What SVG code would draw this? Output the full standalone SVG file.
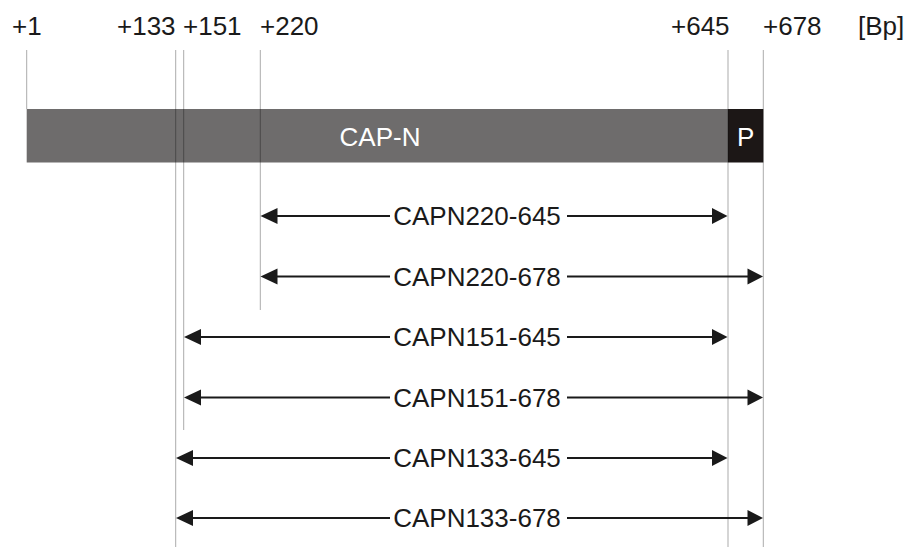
<svg xmlns="http://www.w3.org/2000/svg" width="907" height="547" viewBox="0 0 907 547">
<style>
text{font-family:"Liberation Sans",Arial,sans-serif;font-size:26px;fill:#1a1a1a}
.w{fill:#ffffff}
.m{text-anchor:middle}
.g{stroke:#000;stroke-opacity:0.33;stroke-width:1;fill:none}
.a{stroke:#1a1a1a;stroke-width:2;fill:none}
.h{fill:#1a1a1a}
</style>
<g id="bar">
<rect x="26.7" y="109" width="701.3" height="53.5" fill="#6e6c6c"/>
<rect x="728" y="109" width="35.3" height="53.5" fill="#1c1716"/>
<text class="w m" x="380" y="146">CAP-N</text>
<text class="w m" x="745.6" y="146">P</text>
</g>
<g id="scale">
<text x="12" y="35">+1</text>
<text x="117" y="35">+133</text>
<text x="183" y="35">+151</text>
<text x="260" y="35">+220</text>
<text x="671" y="35">+645</text>
<text x="763" y="35">+678</text>
<text x="858" y="35">[Bp]</text>
<line class="g" x1="26.7" y1="50" x2="26.7" y2="109"/>
<line class="g" x1="175.7" y1="50" x2="175.7" y2="547"/>
<line class="g" x1="183.7" y1="50" x2="183.7" y2="430"/>
<line class="g" x1="260.3" y1="50" x2="260.3" y2="310"/>
<line class="g" x1="728" y1="50" x2="728" y2="547"/>
<line class="g" x1="763.3" y1="50" x2="763.3" y2="547"/>
</g>
<g id="connectors">
<g id="r1">
<line class="a" x1="276" y1="216" x2="390" y2="216"/><line class="a" x1="567" y1="216" x2="713" y2="216"/>
<polygon class="h" points="260.5,216 277.5,208 277.5,224"/><polygon class="h" points="727.5,216 712,208 712,224"/>
<text class="m" x="477" y="225">CAPN220-645</text>
</g>
<g id="r2">
<line class="a" x1="276" y1="276.5" x2="390" y2="276.5"/><line class="a" x1="567" y1="276.5" x2="748" y2="276.5"/>
<polygon class="h" points="260.5,276.5 277.5,268.5 277.5,284.5"/><polygon class="h" points="763,276.5 747.5,268.5 747.5,284.5"/>
<text class="m" x="477" y="285.5">CAPN220-678</text>
</g>
<g id="r3">
<line class="a" x1="199" y1="337" x2="390" y2="337"/><line class="a" x1="567" y1="337" x2="713" y2="337"/>
<polygon class="h" points="184,337 201,329 201,345"/><polygon class="h" points="727.5,337 712,329 712,345"/>
<text class="m" x="477" y="346">CAPN151-645</text>
</g>
<g id="r4">
<line class="a" x1="199" y1="397.5" x2="390" y2="397.5"/><line class="a" x1="567" y1="397.5" x2="748" y2="397.5"/>
<polygon class="h" points="184,397.5 201,389.5 201,405.5"/><polygon class="h" points="763,397.5 747.5,389.5 747.5,405.5"/>
<text class="m" x="477" y="406.5">CAPN151-678</text>
</g>
<g id="r5">
<line class="a" x1="191" y1="458" x2="390" y2="458"/><line class="a" x1="567" y1="458" x2="713" y2="458"/>
<polygon class="h" points="176,458 193,450 193,466"/><polygon class="h" points="727.5,458 712,450 712,466"/>
<text class="m" x="477" y="467">CAPN133-645</text>
</g>
<g id="r6">
<line class="a" x1="191" y1="518" x2="390" y2="518"/><line class="a" x1="567" y1="518" x2="748" y2="518"/>
<polygon class="h" points="176,518 193,510 193,526"/><polygon class="h" points="763,518 747.5,510 747.5,526"/>
<text class="m" x="477" y="527">CAPN133-678</text>
</g>
</g>
</svg>
